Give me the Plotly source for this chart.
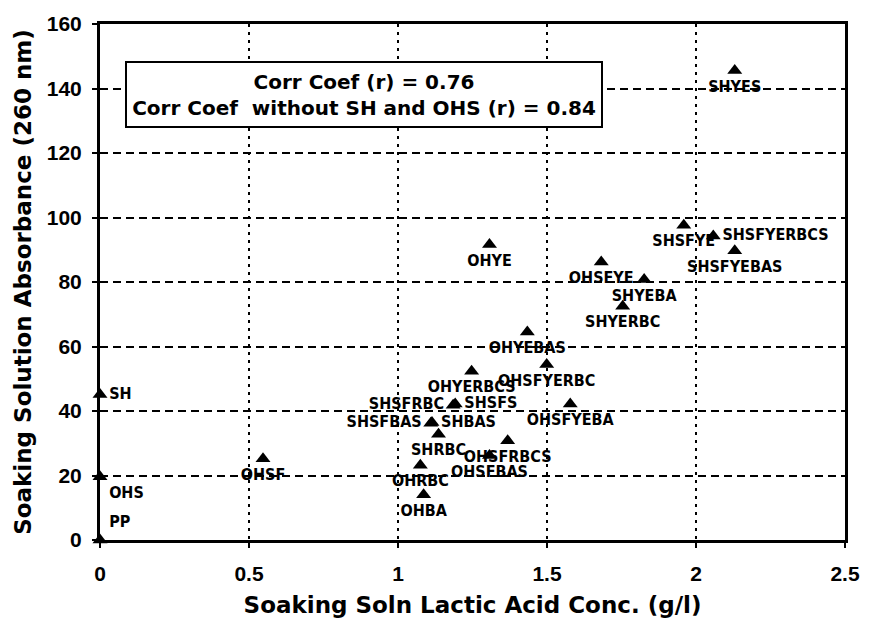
import plotly.graph_objects as go

names = ["PP", "OHS", "SH", "OHSF", "OHBA", "OHRBC", "SHRBC", "SHBAS", "SHSFBAS",
         "SHSFRBC", "SHSFS", "OHYERBCS", "OHSFYERBC", "OHYEBAS", "OHYE", "OHSFYEBA",
         "OHSFRBCS", "OHSFBAS", "SHSFYE", "SHSFYERBCS", "SHSFYEBAS", "OHSFYE",
         "SHYEBA", "SHYERBC", "SHYES"]
lactic = [0.0, 0.0, 0.0, 0.547, 1.086, 1.075, 1.136, 1.114, 1.110,
          1.185, 1.192, 1.247, 1.499, 1.434, 1.307, 1.578,
          1.368, 1.307, 1.959, 2.058, 2.130, 1.682,
          1.826, 1.754, 2.130]
absorb = [0.0, 19.6, 45.1, 25.2, 14.0, 23.2, 32.8, 36.4, 36.2,
          41.8, 42.2, 52.3, 54.4, 64.5, 91.6, 42.2,
          30.8, 26.2, 97.6, 94.3, 89.7, 86.2,
          80.8, 72.5, 145.6]
label_pos = ["top right", "bottom right", "middle right", "bottom center", "bottom center",
             "bottom center", "bottom center", "middle right", "middle left",
             "middle left", "middle right", "bottom center", "bottom center", "bottom center",
             "bottom center", "bottom center", "bottom center", "bottom center",
             "bottom center", "middle right", "bottom center", "bottom center",
             "bottom center", "bottom center", "bottom center"]

x_ticks = [0, 0.5, 1, 1.5, 2, 2.5]
x_ticktext = ["0", "0.5", "1", "1.5", "2", "2.5"]
y_ticks = [0, 20, 40, 60, 80, 100, 120, 140, 160]

annot_lines = ["Corr Coef (r) = 0.76", "Corr Coef  without SH and OHS (r) = 0.84"]

TICK_FONT = "Liberation Sans, Arial, sans-serif"
TITLE_FONT = "DejaVu Sans, Verdana, sans-serif"
LABEL_FONT = "Liberation Sans Narrow, Arial Narrow, DejaVu Sans Condensed, Liberation Sans, sans-serif"

fig = go.Figure()
fig.add_trace(go.Scatter(
    x=lactic, y=absorb, mode="markers+text", text=names, textposition=label_pos,
    marker=dict(symbol="triangle-up", size=13, color="black"),
    textfont=dict(family=LABEL_FONT, size=16, color="black", weight="bold"),
    cliponaxis=False, showlegend=False, hoverinfo="skip"))

fig.add_annotation(
    xref="paper", yref="paper", x=0.034, y=0.9276, xanchor="left", yanchor="top",
    text="<br>".join(annot_lines), showarrow=False, align="center",
    font=dict(family=TITLE_FONT, size=20, color="black", weight="bold"),
    bordercolor="black", borderwidth=2, borderpad=4, bgcolor="white",
    width=466, height=55)

axis_common = dict(showline=True, linecolor="black", linewidth=3, mirror=True,
                   showgrid=True, gridcolor="black", gridwidth=2, zeroline=False,
                   ticks="outside", ticklen=5, tickwidth=2, tickcolor="black",
                   tickfont=dict(family=TICK_FONT, size=21, color="black", weight="bold"))

fig.update_xaxes(range=[0, 2.5], tickvals=x_ticks, ticktext=x_ticktext,
                 griddash="3px,5px", ticklabelstandoff=8,
                 title=dict(text="Soaking Soln Lactic Acid Conc. (g/l)", standoff=13,
                            font=dict(family=TITLE_FONT, size=23, color="black", weight="bold")),
                 **axis_common)
fig.update_yaxes(range=[0, 160], tickvals=y_ticks, griddash="8px,5px",
                 ticklabelstandoff=6,
                 title=dict(text="Soaking Solution Absorbance (260 nm)", standoff=9,
                            font=dict(family=TITLE_FONT, size=23, color="black", weight="bold")),
                 **axis_common)

fig.update_layout(width=872, height=626, margin=dict(l=100, r=17, t=16, b=85),
                  paper_bgcolor="white", plot_bgcolor="white")

fig.write_html("out.html")
